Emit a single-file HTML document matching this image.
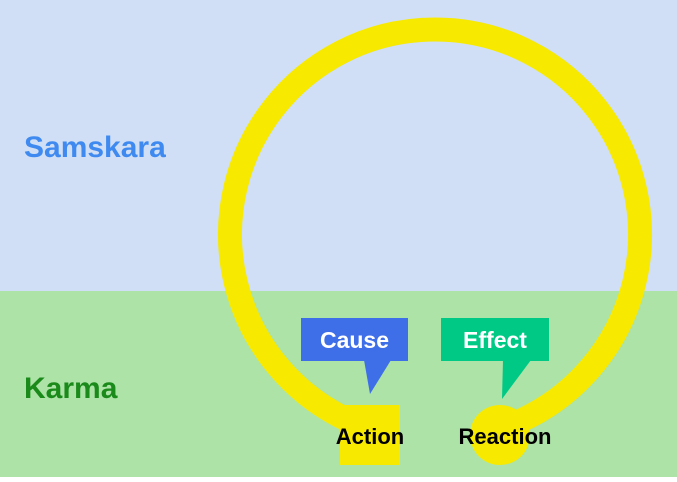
<!DOCTYPE html>
<html><head><meta charset="utf-8"><style>
html,body{margin:0;padding:0;}
body{width:677px;height:477px;overflow:hidden;}
</style></head><body>
<svg width="677" height="477" xmlns="http://www.w3.org/2000/svg" font-family="Liberation Sans, sans-serif" font-weight="bold">
<rect x="0" y="0" width="677" height="291" fill="#d0dff5"/>
<rect x="0" y="291" width="677" height="186" fill="#ade3a7"/>
<path d="M350 421 A205 205 0 1 1 520 421" fill="none" stroke="#f7e900" stroke-width="24"/>
<rect x="340" y="405" width="60" height="60" fill="#f7e900"/>
<circle cx="500" cy="435" r="30" fill="#f7e900"/>
<rect x="301" y="318" width="107" height="43" fill="#3f6fe8"/>
<polygon points="364,360 391,360 370,394" fill="#3f6fe8"/>
<rect x="441" y="318" width="108" height="43" fill="#00c986"/>
<polygon points="503,360 531,360 502,399" fill="#00c986"/>
<text x="354.5" y="348" font-size="23" fill="#fff" text-anchor="middle">Cause</text>
<text x="495" y="348" font-size="23" fill="#fff" text-anchor="middle">Effect</text>
<text x="370" y="444" font-size="22" fill="#000" text-anchor="middle">Action</text>
<text x="505" y="444" font-size="22" fill="#000" text-anchor="middle">Reaction</text>
<text x="24" y="157" font-size="30" fill="#3f8af0">Samskara</text>
<text x="24" y="398" font-size="30" fill="#1a8a1a">Karma</text>
</svg>
</body></html>
